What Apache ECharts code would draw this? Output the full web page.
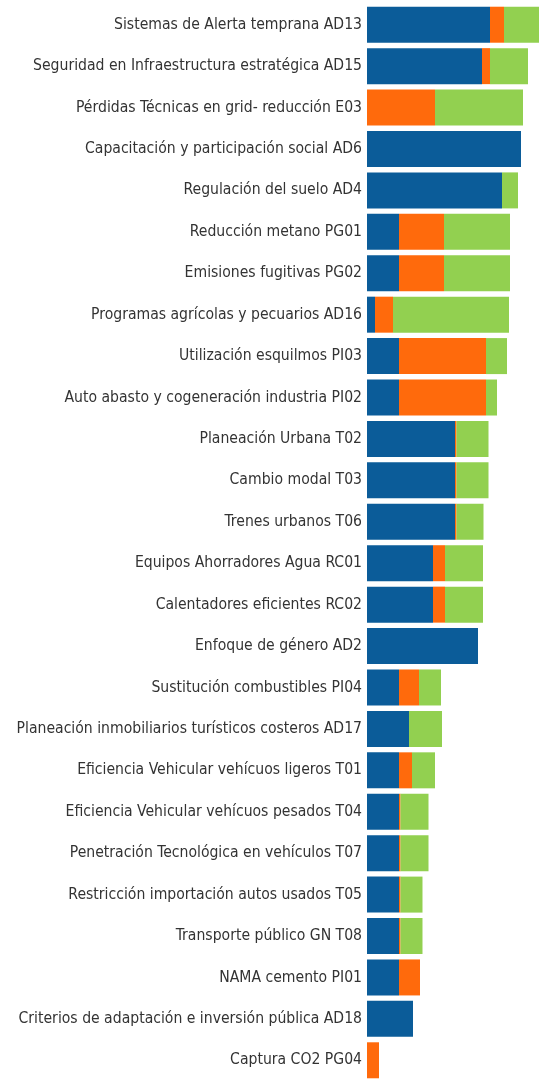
<!DOCTYPE html>
<html>
<head>
<meta charset="utf-8">
<script src="https://cdn.jsdelivr.net/npm/echarts@6/dist/echarts.min.js"></script>
<style>
html,body{margin:0;padding:0;background:#fff;}
#chart{width:539px;height:1079px;}
</style>
</head>
<body>
<div id="chart"></div>
<script>
const categories = [
  "Sistemas de Alerta temprana AD13",
  "Seguridad en Infraestructura estratégica AD15",
  "Pérdidas Técnicas en grid- reducción E03",
  "Capacitación y participación social AD6",
  "Regulación del suelo AD4",
  "Reducción metano PG01",
  "Emisiones fugitivas PG02",
  "Programas agrícolas y pecuarios AD16",
  "Utilización esquilmos PI03",
  "Auto abasto y cogeneración industria PI02",
  "Planeación Urbana T02",
  "Cambio modal T03",
  "Trenes urbanos T06",
  "Equipos Ahorradores Agua RC01",
  "Calentadores eficientes RC02",
  "Enfoque de género AD2",
  "Sustitución combustibles PI04",
  "Planeación inmobiliarios turísticos costeros AD17",
  "Eficiencia Vehicular vehícuos ligeros T01",
  "Eficiencia Vehicular vehícuos pesados T04",
  "Penetración Tecnológica en vehículos T07",
  "Restricción importación autos usados T05",
  "Transporte público GN T08",
  "NAMA cemento PI01",
  "Criterios de adaptación e inversión pública AD18",
  "Captura CO2 PG04"
];
const blueValues   = [123, 115, 0, 154, 135, 32, 32, 8, 32, 32, 88, 88, 88, 66, 66, 111, 32, 42, 32, 32, 32, 32, 32, 32, 46, 0];
const orangeValues = [14, 8, 68, 0, 0, 45, 45, 18, 87, 87, 1.5, 1.5, 1.5, 12, 12, 0, 20, 0, 13, 1.5, 1.5, 1.5, 1.5, 21, 0, 12];
const greenValues  = [38, 38, 88, 0, 16, 66, 66, 116, 21, 11, 32, 32, 27, 38, 38, 0, 22, 33, 23, 28, 28, 22, 22, 0, 0, 0];

const chart = echarts.init(document.getElementById('chart'), null, {renderer: 'canvas'});
const mk = (name, data, color) => ({
  name, type: 'bar', stack: 'total', data,
  barWidth: 36,
  itemStyle: {color},
  emphasis: {disabled: true},
  clip: true,
  animation: false
});
chart.setOption({
  animation: false,
  grid: {left: 367, right: 0, top: 4, height: 1077, containLabel: false, outerBoundsMode: 'none'},
  xAxis: {type: 'value', min: 0, max: 172, show: false},
  yAxis: {
    type: 'category', data: categories, inverse: true,
    axisLine: {show: false}, axisTick: {show: false}, splitLine: {show: false},
    axisLabel: {margin: 5, color: '#333333', fontSize: 15.6, fontFamily: 'DejaVu Sans Condensed, sans-serif'}
  },
  series: [
    mk('Adaptación', blueValues, '#0b5c99'),
    mk('Energía', orangeValues, '#ff6a0c'),
    mk('Mitigación', greenValues, '#92d050')
  ]
});
</script>
</body>
</html>
